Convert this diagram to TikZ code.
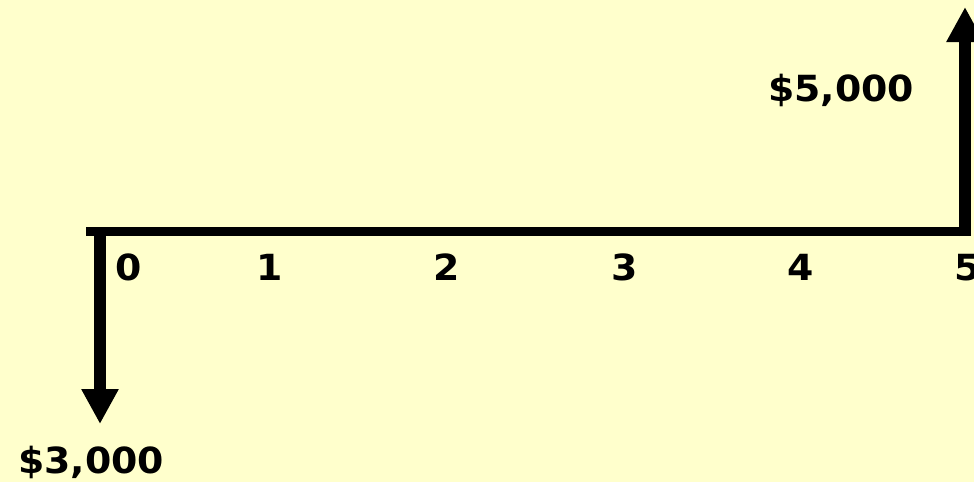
\documentclass[tikz,border=0pt]{standalone}
\usepackage{fontspec}
\setmainfont{DejaVu Sans}
\newfontfamily\lblfont[FakeStretch=1.05]{DejaVu Sans Bold}
\usetikzlibrary{arrows.meta}
\definecolor{bgyellow}{HTML}{FFFFCC}
\tikzset{
  lbl/.style={inner sep=0pt, anchor=base, font=\lblfont\fontsize{36pt}{40pt}\selectfont, text=black},
  axisline/.style={line width=9pt, black},
  flow/.style={line width=11.5pt, black, -{Triangle[width=35pt,length=35pt]}}
}
\begin{document}
\begin{tikzpicture}[x=1pt,y=-1pt]
\fill[bgyellow] (0,0) rectangle (974,482);
\useasboundingbox (0,0) rectangle (974,482);
\coordinate (hl) at (86,231.5);
\coordinate (hr) at (970,231.5);
\coordinate (dtop) at (100,227);
\coordinate (dtip) at (100,424);
\coordinate (ubot) at (965,236);
\coordinate (utip) at (965,7);
\draw[axisline] (hl) -- (hr);
\draw[flow] (dtop) -- (dtip);
\draw[flow] (ubot) -- (utip);
\node[lbl] (t0) at (128.5,280) {0};
\node[lbl] (t1) at (270,280) {1};
\node[lbl] (t2) at (447,280) {2};
\node[lbl] (t3) at (625,280) {3};
\node[lbl] (t4) at (801,280) {4};
\node[lbl] (t5) at (968,280) {5};
\node[lbl] (out) at (91,473) {\$3,000};
\node[lbl] (in) at (841,101) {\$5,000};
\end{tikzpicture}
\end{document}
